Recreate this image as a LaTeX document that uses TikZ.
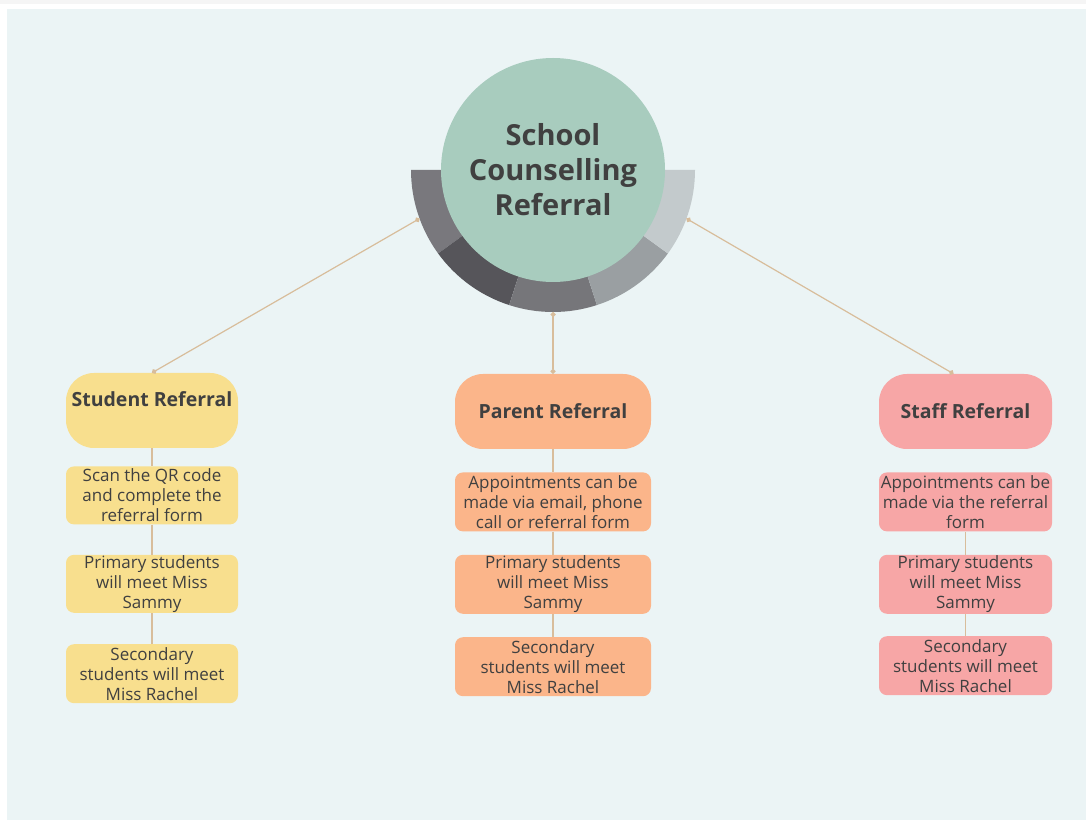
\documentclass[tikz,border=0pt]{standalone}
\usepackage{fontspec}
\setmainfont{Open Sans}
\usetikzlibrary{arrows.meta, positioning}

\definecolor{panel}{HTML}{EBF4F5}
\definecolor{strip}{HTML}{F5F5F5}
\definecolor{ink}{HTML}{404040}
\definecolor{mint}{HTML}{A8CCBE}
\definecolor{tanline}{HTML}{D8BD9B}
\definecolor{yel}{HTML}{F8DF8E}
\definecolor{org}{HTML}{FBB58A}
\definecolor{pnk}{HTML}{F7A6A6}
\definecolor{ringA}{HTML}{79787D}
\definecolor{ringB}{HTML}{56555A}
\definecolor{ringC}{HTML}{76767A}
\definecolor{ringD}{HTML}{9A9FA2}
\definecolor{ringE}{HTML}{C3CACC}

\begin{document}
\begin{tikzpicture}[x=1pt, y=1pt,
        hd/.style={rectangle, rounded corners=28pt, minimum height=75pt, inner sep=0pt,
                   align=center, text=ink, font=\bfseries\fontsize{19.5}{22}\selectfont},
        sb/.style={rectangle, rounded corners=8pt, minimum height=59pt, inner sep=0pt,
                   align=center, text=ink, font=\fontsize{17}{20}\selectfont},
        ln/.style={draw=tanline, line width=1.2pt},
        dots/.style={ln, {Circle[length=5pt]}-{Circle[length=5pt]}},
        node distance=23pt]
      \useasboundingbox (0,0) rectangle (1086,820);
      \fill[strip] (0,816) rectangle (1086,820);
      \fill[panel] (7,0) rectangle (1086,811);

      % ring behind the hub
      \coordinate (c) at (553,650);
      \foreach \a/\col in {180/ringA, 216/ringB, 252/ringC, 288/ringD, 324/ringE}
        \fill[\col] (c) -- ++(\a:142) arc[start angle=\a, end angle=\a+36, radius=142] -- cycle;
      \node[circle, fill=mint, minimum size=224pt, inner sep=0pt, align=center, text=ink,
            font=\bfseries\fontsize{29}{35}\selectfont] (hub) at (c) {School\\Counselling\\Referral};
      \coordinate (rl) at ([shift={(200:142)}]c);
      \coordinate (rb) at ([shift={(270:142)}]c);
      \coordinate (rr) at ([shift={(340:142)}]c);

      % student
      \node[hd, fill=yel, minimum width=172pt] (sh) at (152,409.5) {Student Referral\\[-6pt] \strut};
      \node[sb, fill=yel, minimum width=172pt, minimum height=58pt, below=18pt of sh] (s1) {Scan the QR code\\and complete the\\referral form};
      \node[sb, fill=yel, minimum width=172pt, minimum height=58pt, below=30pt of s1] (s2) {Primary students\\will meet Miss\\Sammy};
      \node[sb, fill=yel, minimum width=172pt, below=31pt of s2] (s3) {Secondary\\students will meet\\Miss Rachel};

      % parent
      \node[hd, fill=org, minimum width=196pt] (ph) at (553,408.5) {Parent Referral};
      \node[sb, fill=org, minimum width=196pt, below=of ph] (p1) {Appointments can be\\made via email, phone\\call or referral form};
      \node[sb, fill=org, minimum width=196pt, below=of p1] (p2) {Primary students\\will meet Miss\\Sammy};
      \node[sb, fill=org, minimum width=196pt, below=of p2] (p3) {Secondary\\students will meet\\Miss Rachel};

      % staff
      \node[hd, fill=pnk, minimum width=173pt] (th) at (965.5,408.5) {Staff Referral};
      \node[sb, fill=pnk, minimum width=173pt, below=of th] (t1) {Appointments can be\\made via the referral\\form};
      \node[sb, fill=pnk, minimum width=173pt, below=of t1] (t2) {Primary students\\will meet Miss\\Sammy};
      \node[sb, fill=pnk, minimum width=173pt, below=22pt of t2] (t3) {Secondary\\students will meet\\Miss Rachel};

      \draw[dots] (rl) -- (sh.north);
      \draw[dots] (rb) -- (ph.north);
      \draw[dots] (rr) -- ([xshift=-12pt]th.north);
      \foreach \u/\v in {sh/s1, s1/s2, s2/s3, ph/p1, p1/p2, p2/p3, t1/t2, t2/t3}
        \draw[ln] (\u) -- (\v);
    \end{tikzpicture}
\end{document}
